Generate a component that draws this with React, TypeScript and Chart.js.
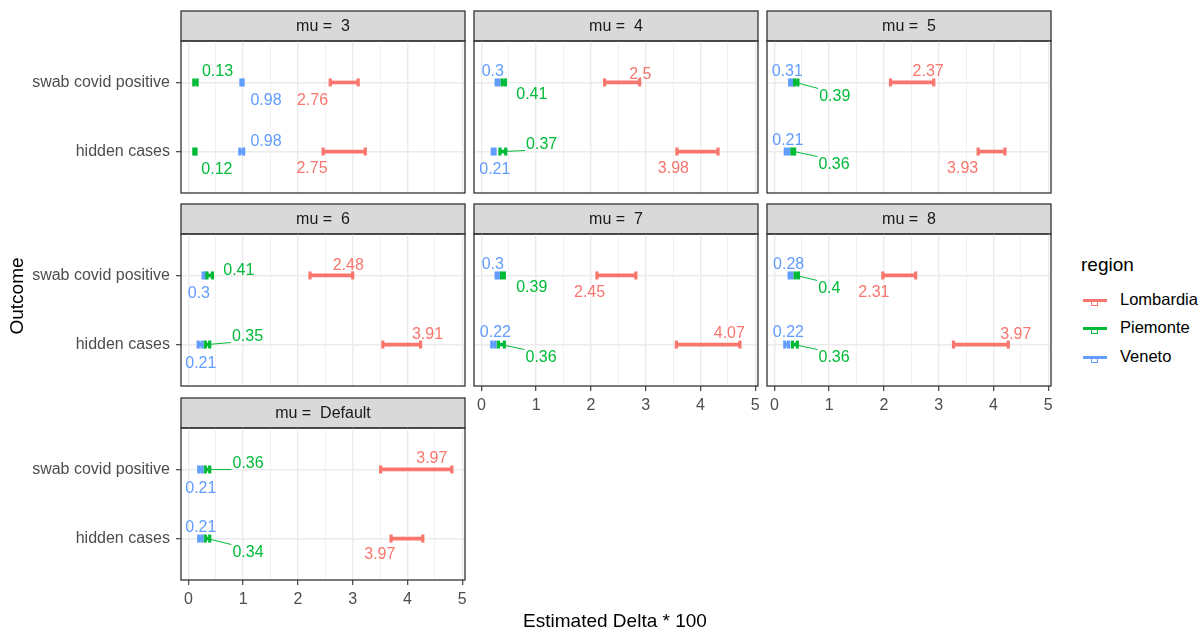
import React, { useEffect, useRef } from 'react';
import { Chart, registerables } from 'chart.js';

Chart.register(...registerables);

const FONT = '"Liberation Sans", Arial, Helvetica, sans-serif';

// ---------- data ----------
const facetLabels = ['3', '4', '5', '6', '7', '8', 'Default'];
const outcomes = ['swab covid positive', 'hidden cases'];
const regions = ['Lombardia', 'Piemonte', 'Veneto'];
const regionColors = ['#F8766D', '#00BA38', '#619CFF'];
const xTickValues = [0, 0.5, 1, 1.5, 2, 2.5, 3, 3.5, 4, 4.5, 5];

// [facet][outcome]  (outcome 0 = swab covid positive, 1 = hidden cases)
const lombardiaEst = [[2.76, 2.75], [2.5, 3.98], [2.37, 3.93], [2.48, 3.91], [2.45, 4.07], [2.31, 3.97], [3.97, 3.97]];
const lombardiaLow = [[2.59, 2.46], [2.25, 3.57], [2.12, 3.72], [2.22, 3.55], [2.11, 3.56], [1.98, 3.27], [3.51, 3.70]];
const lombardiaHigh = [[3.10, 3.23], [2.89, 4.32], [2.91, 4.21], [3.00, 4.24], [2.82, 4.72], [2.58, 4.27], [4.81, 4.28]];

const piemonteEst = [[0.13, 0.12], [0.41, 0.37], [0.39, 0.36], [0.41, 0.35], [0.39, 0.36], [0.4, 0.36], [0.36, 0.34]];
const piemonteLow = [[0.10, 0.10], [0.38, 0.34], [0.37, 0.32], [0.34, 0.31], [0.37, 0.31], [0.38, 0.33], [0.31, 0.31]];
const piemonteHigh = [[0.16, 0.14], [0.44, 0.445], [0.43, 0.37], [0.44, 0.39], [0.42, 0.42], [0.44, 0.42], [0.39, 0.39]];

const venetoEst = [[0.98, 0.98], [0.3, 0.21], [0.31, 0.21], [0.3, 0.21], [0.3, 0.22], [0.28, 0.22], [0.21, 0.21]];
const venetoLow = [[0.96, 0.94], [0.27, 0.20], [0.28, 0.20], [0.27, 0.18], [0.27, 0.19], [0.27, 0.19], [0.19, 0.19]];
const venetoHigh = [[1.00, 1.01], [0.32, 0.25], [0.32, 0.26], [0.32, 0.25], [0.31, 0.25], [0.32, 0.26], [0.25, 0.25]];

const estimates = [lombardiaEst, piemonteEst, venetoEst];
const lows = [lombardiaLow, piemonteLow, venetoLow];
const highs = [lombardiaHigh, piemonteHigh, venetoHigh];

// label placement (pixel offsets from the estimate, plus whether a leader segment is drawn)
// [facet][outcome][region] = [dx, dy, segment]
const labelOffsets = [
  [[[-27, 17, 0], [22, -12, 0], [24, 17, 0]], [[-27, 16, 0], [22, 17, 0], [24, -11, 0]]],
  [[[22, -9, 0], [28, 11, 0], [-5, -12, 0]], [[-26, 16, 0], [40, -8, 1], [2, 17, 0]]],
  [[[24, -12, 0], [39, 13, 1], [-4, -12, 0]], [[-27, 16, 0], [40, 12, 1], [2, -12, 0]]],
  [[[24, -11, 0], [28, -6, 0], [-6, 17, 0]], [[25, -11, 0], [40, -9, 1], [1, 18, 0]]],
  [[[-26, 16, 0], [29, 11, 0], [-5, -12, 0]], [[25, -12, 0], [40, 12, 1], [2, -13, 0]]],
  [[[-27, 16, 0], [33, 12, 1], [-1, -12, 0]], [[24, -11, 0], [40, 12, 1], [2, -13, 0]]],
  [[[26, -12, 0], [40, -7, 1], [1, 18, 0]], [[-26, 15, 0], [41, 13, 1], [1, -12, 0]]],
];

// ---------- layout ----------
const X_MIN = -0.134;
const X_MAX = 5.05;
const COL_LEFT = [181, 474, 767];
const STRIP_TOP = [11, 204, 398];
const PANEL_W = 284;
const PANEL_H = 152;
const STRIP_H = 30;
const PAD_B = 22;

function makeConfig(f: number, showY: boolean, showX: boolean, padL: number, yW: number, xH: number): any {
  const datasets: any[] = [];
  regions.forEach((r, ri) => {
    const color = regionColors[ri];
    const lo = lows[ri][f];
    const hi = highs[ri][f];
    datasets.push({
      type: 'bar',
      label: r,
      indexAxis: 'y',
      grouped: false,
      data: outcomes.map((_, oi) => ({ x: [lo[oi], hi[oi]], y: oi })),
      backgroundColor: color,
      borderWidth: 0,
      barThickness: 3,
      order: ri + 1,
    });
    datasets.push({
      type: 'scatter',
      label: r + ' caps',
      data: [
        ...outcomes.map((_, oi) => ({ x: lo[oi], y: oi })),
        ...outcomes.map((_, oi) => ({ x: hi[oi], y: oi })),
      ],
      pointStyle: 'line',
      rotation: 90,
      radius: 4,
      borderWidth: 3.2,
      borderColor: color,
      backgroundColor: color,
      showLine: false,
      order: ri + 1,
    });
  });

  const stripPlugin = {
    id: 'strip',
    beforeDraw(chart: any) {
      const { left, top, right } = chart.chartArea;
      const ctx = chart.ctx;
      ctx.save();
      ctx.fillStyle = '#D9D9D9';
      ctx.fillRect(left, top - STRIP_H, right - left, STRIP_H);
      ctx.strokeStyle = '#333333';
      ctx.lineWidth = 1.3;
      ctx.strokeRect(left, top - STRIP_H, right - left, STRIP_H);
      ctx.fillStyle = '#1A1A1A';
      ctx.font = `16px ${FONT}`;
      ctx.textAlign = 'center';
      ctx.textBaseline = 'middle';
      ctx.fillText('mu =  ' + facetLabels[f], (left + right) / 2, top - STRIP_H / 2 + 1);
      ctx.restore();
    },
  };

  const overlayPlugin = {
    id: 'overlay',
    afterDatasetsDraw(chart: any) {
      const ctx = chart.ctx;
      const xs = chart.scales.x;
      const ys = chart.scales.y;
      ctx.save();
      ctx.font = `16px ${FONT}`;
      ctx.textAlign = 'center';
      ctx.textBaseline = 'middle';
      regions.forEach((_, ri) => {
        const color = regionColors[ri];
        outcomes.forEach((__, oi) => {
          const v = estimates[ri][f][oi];
          const [dx, dy, seg] = labelOffsets[f][oi][ri];
          const px = xs.getPixelForValue(v);
          const py = ys.getPixelForValue(oi);
          const lx = px + dx;
          const ly = py + dy;
          const txt = String(v);
          if (seg) {
            const hw = ctx.measureText(txt).width / 2 + 1;
            const hh = 7;
            const cx = Math.min(Math.max(px, lx - hw), lx + hw);
            const cy = Math.min(Math.max(py, ly - hh), ly + hh);
            ctx.strokeStyle = color;
            ctx.lineWidth = 1;
            ctx.beginPath();
            ctx.moveTo(px, py);
            ctx.lineTo(cx, cy);
            ctx.stroke();
          }
          ctx.fillStyle = color;
          ctx.fillText(txt, lx, ly + 1);
        });
      });
      const { left, top, right, bottom } = chart.chartArea;
      ctx.strokeStyle = '#333333';
      ctx.lineWidth = 1.3;
      ctx.strokeRect(left, top, right - left, bottom - top);
      ctx.restore();
    },
  };

  return {
    type: 'scatter',
    data: { datasets },
    options: {
      animation: false,
      responsive: false,
      devicePixelRatio: 1,
      events: [],
      layout: { padding: { left: padL, right: 10, top: STRIP_H + 2, bottom: PAD_B } },
      plugins: { legend: { display: false }, tooltip: { enabled: false }, title: { display: false } },
      scales: {
        x: {
          type: 'linear',
          position: 'bottom',
          min: X_MIN,
          max: X_MAX,
          offset: false,
          beginAtZero: false,
          bounds: 'data',
          afterBuildTicks: (scale: any) => {
            scale.ticks = xTickValues.map((v) => ({ value: v }));
          },
          afterFit: (scale: any) => {
            scale.height = xH;
          },
          border: { display: false },
          grid: {
            offset: false,
            color: '#EBEBEB',
            lineWidth: (ctx: any) => (ctx.tick && Number.isInteger(ctx.tick.value) ? 1.4 : 0.7),
            drawTicks: showX,
            tickLength: 5,
            tickWidth: 1.1,
            tickColor: (ctx: any) => (ctx.tick && Number.isInteger(ctx.tick.value) ? '#333333' : 'rgba(0,0,0,0)'),
          },
          ticks: {
            display: showX,
            autoSkip: false,
            maxRotation: 0,
            padding: 5,
            color: '#4D4D4D',
            font: { family: FONT, size: 16 },
            callback: (v: any) => (Number.isInteger(v) ? String(v) : ''),
          },
        },
        y: {
          type: 'linear',
          position: 'left',
          min: -0.6,
          max: 1.6,
          reverse: true,
          offset: false,
          beginAtZero: false,
          bounds: 'data',
          afterBuildTicks: (scale: any) => {
            scale.ticks = outcomes.map((_, i) => ({ value: i }));
          },
          afterFit: (scale: any) => {
            scale.width = yW;
          },
          border: { display: false },
          grid: {
            offset: false,
            color: '#EBEBEB',
            lineWidth: 1.4,
            drawTicks: showY,
            tickLength: 5,
            tickWidth: 1.1,
            tickColor: '#333333',
          },
          ticks: {
            display: showY,
            padding: 6,
            color: '#4D4D4D',
            font: { family: FONT, size: 16 },
            callback: (v: any) => outcomes[v] ?? '',
          },
        },
      },
    },
    plugins: [stripPlugin, overlayPlugin],
  };
}

function Panel({ f }: { f: number }) {
  const ref = useRef<HTMLCanvasElement>(null);
  const row = Math.floor(f / 3);
  const col = f % 3;
  const showY = col === 0;
  const showX = row === 2 || (row === 1 && col > 0);
  const yW = showY ? 181 : 0;
  const padL = showY ? 0 : 10;
  const xH = showX ? 30 : 0;
  const width = padL + yW + PANEL_W + 10;
  const height = STRIP_H + 2 + PANEL_H + xH + PAD_B;
  const left = COL_LEFT[col] - padL - yW;
  const top = STRIP_TOP[row] - 2;

  useEffect(() => {
    const chart = new Chart(ref.current as HTMLCanvasElement, makeConfig(f, showY, showX, padL, yW, xH));
    return () => chart.destroy();
  }, []);

  return (
    <canvas
      ref={ref}
      width={width}
      height={height}
      style={{ position: 'absolute', left, top, width, height }}
    />
  );
}

export default function App() {
  const legendY = [300, 328, 357];
  return (
    <div
      style={{
        position: 'absolute',
        left: 0,
        top: 0,
        width: 1202,
        height: 632,
        background: '#FFFFFF',
        overflow: 'hidden',
        fontFamily: FONT,
      }}
    >
      {facetLabels.map((_, f) => (
        <Panel key={f} f={f} />
      ))}
      <div
        style={{
          position: 'absolute',
          left: 17 - 60,
          top: 296 - 11,
          width: 120,
          height: 22,
          lineHeight: '22px',
          textAlign: 'center',
          fontSize: 19,
          color: '#000',
          transform: 'rotate(-90deg)',
        }}
      >
        Outcome
      </div>
      <div
        style={{
          position: 'absolute',
          left: 615 - 150,
          top: 621 - 11,
          width: 300,
          height: 22,
          lineHeight: '22px',
          textAlign: 'center',
          fontSize: 19,
          color: '#000',
        }}
      >
        Estimated Delta * 100
      </div>
      <div
        style={{
          position: 'absolute',
          left: 1081,
          top: 254,
          lineHeight: '22px',
          fontSize: 19,
          color: '#000',
        }}
      >
        region
      </div>
      {regions.map((r, i) => (
        <React.Fragment key={r}>
          <div
            style={{
              position: 'absolute',
              left: 1083,
              top: legendY[i] - 1.5,
              width: 24,
              height: 3,
              background: regionColors[i],
            }}
          />
          <div
            style={{
              position: 'absolute',
              left: 1091,
              top: legendY[i] + 1.5,
              width: 5,
              height: 3,
              border: `1px solid ${regionColors[i]}`,
              borderTop: 'none',
            }}
          />
          <div
            style={{
              position: 'absolute',
              left: 1120,
              top: legendY[i] - 11,
              lineHeight: '20px',
              fontSize: 16.5,
              color: '#000',
            }}
          >
            {r}
          </div>
        </React.Fragment>
      ))}
    </div>
  );
}
